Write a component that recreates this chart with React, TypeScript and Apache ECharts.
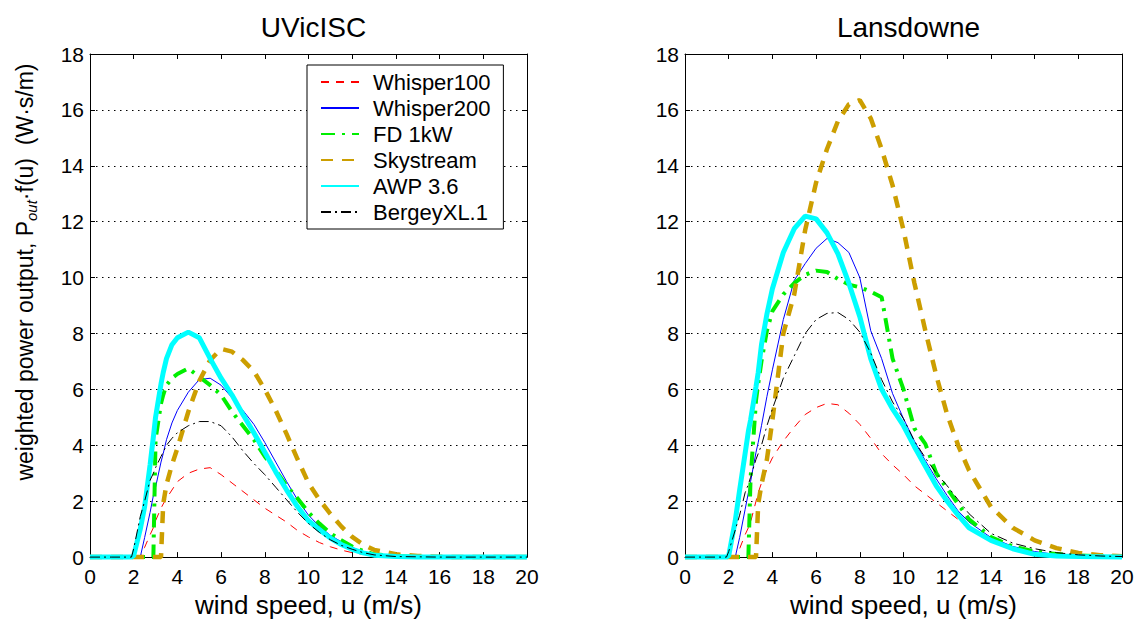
import React, { useEffect, useRef } from 'react';
import * as echarts from 'echarts';

// Wind speed samples (m/s) shared by every curve
const windSpeed = [0, 1, 1.9, 2, 2.3, 2.5, 2.75, 2.9, 3, 3.25, 3.35, 3.5, 3.75, 4, 4.5, 5, 5.5, 6, 6.5, 7, 7.5, 8, 8.5, 9, 9.5, 10, 10.5, 11, 11.5, 12, 12.5, 13, 14, 15, 16, 17, 18, 19, 20];

const turbineNames = ['Whisper100', 'Whisper200', 'FD 1kW', 'Skystream', 'AWP 3.6', 'BergeyXL.1'];
const siteNames = ['UVicISC', 'Lansdowne'];

// Weighted power output P_out·f(u) (W·s/m) at UVicISC
const uvicWhisper100 = [0, 0, 0, 0, 0, 0.35, 0.8, 1.05, 1.3, 1.75, 1.9, 2.1, 2.4, 2.7, 3.0, 3.15, 3.2, 2.95, 2.65, 2.35, 2.05, 1.75, 1.5, 1.25, 0.95, 0.72, 0.52, 0.37, 0.25, 0.16, 0.1, 0.06, 0.02, 0.01, 0, 0, 0, 0, 0];
const uvicWhisper200 = [0, 0, 0, 0, 0, 0.7, 1.6, 2.2, 2.5, 3.4, 3.7, 4.2, 4.8, 5.25, 5.9, 6.35, 6.4, 6.15, 5.7, 5.25, 4.75, 4.1, 3.4, 2.7, 2.05, 1.5, 1.1, 0.78, 0.55, 0.35, 0.18, 0.09, 0.02, 0.01, 0, 0, 0, 0, 0];
const uvicFd1kw = [0, 0, 0, 0, 0, 0, 0, 0, 4.2, 5.5, 5.8, 6.15, 6.4, 6.55, 6.75, 6.45, 6.15, 5.8, 5.2, 4.7, 4.2, 3.6, 3.1, 2.55, 2.1, 1.6, 1.2, 0.85, 0.6, 0.38, 0.22, 0.1, 0.03, 0.01, 0, 0, 0, 0, 0];
const uvicSkystream = [0, 0, 0, 0, 0, 0, 0, 0, 0, 0, 1.9, 2.6, 3.3, 3.9, 5.2, 6.3, 7.05, 7.45, 7.35, 7.05, 6.65, 6.0, 5.25, 4.4, 3.5, 2.65, 2.05, 1.55, 1.1, 0.72, 0.45, 0.26, 0.1, 0.04, 0.01, 0, 0, 0, 0];
const uvicAwp36 = [0, 0, 0, 0.05, 1.0, 1.8, 3.3, 4.3, 5.0, 6.2, 6.6, 7.1, 7.6, 7.85, 8.05, 7.85, 7.1, 6.4, 5.8, 5.1, 4.45, 3.75, 3.05, 2.4, 1.8, 1.3, 0.98, 0.68, 0.45, 0.28, 0.15, 0.07, 0.02, 0, 0, 0, 0, 0, 0];
const uvicBergey = [0, 0, 0, 0.3, 1.45, 2.0, 2.75, 3.0, 3.2, 3.6, 3.75, 4.0, 4.25, 4.45, 4.7, 4.85, 4.85, 4.7, 4.3, 3.8, 3.35, 2.95, 2.5, 2.05, 1.6, 1.2, 0.88, 0.62, 0.42, 0.28, 0.16, 0.08, 0.02, 0.01, 0, 0, 0, 0, 0];

// Weighted power output P_out·f(u) (W·s/m) at Lansdowne
const lansWhisper100 = [0, 0, 0, 0, 0, 0.3, 0.8, 1.05, 1.25, 2.0, 2.3, 2.65, 3.15, 3.55, 4.15, 4.65, 5.1, 5.35, 5.5, 5.45, 5.15, 4.75, 4.25, 3.7, 3.3, 2.95, 2.55, 2.25, 1.95, 1.65, 1.35, 1.05, 0.6, 0.33, 0.16, 0.08, 0.04, 0.02, 0.01];
const lansWhisper200 = [0, 0, 0, 0, 0, 0.7, 1.7, 2.3, 2.7, 3.75, 4.1, 4.7, 5.75, 6.7, 8.5, 9.9, 10.5, 11.05, 11.4, 11.25, 10.9, 10.0, 8.1, 7.1, 5.85, 4.95, 4.15, 3.45, 2.8, 2.2, 1.65, 1.25, 0.7, 0.38, 0.2, 0.09, 0.04, 0.02, 0.01];
const lansFd1kw = [0, 0, 0, 0, 0, 0, 0, 0, 2.8, 5.6, 6.2, 7.0, 8.1, 8.8, 9.4, 9.8, 10.1, 10.25, 10.2, 9.95, 9.75, 9.65, 9.5, 9.3, 7.1, 6.0, 4.6, 4.05, 3.0, 2.45, 1.9, 1.35, 0.72, 0.38, 0.2, 0.11, 0.06, 0.03, 0.02];
const lansSkystream = [0, 0, 0, 0, 0, 0, 0, 0, 0, 0, 1.9, 2.6, 3.5, 4.9, 8.0, 9.4, 11.7, 13.4, 14.6, 15.6, 16.2, 16.35, 15.7, 14.6, 13.3, 11.7, 9.8, 8.1, 6.5, 5.1, 4.0, 3.1, 1.8, 1.05, 0.6, 0.32, 0.15, 0.07, 0.03];
const lansAwp36 = [0, 0, 0, 0.05, 1.3, 2.4, 3.7, 4.5, 4.9, 6.1, 6.6, 7.6, 8.7, 9.6, 10.9, 11.75, 12.2, 12.1, 11.6, 10.85, 9.8, 8.6, 7.1, 6.0, 5.3, 4.7, 3.95, 3.25, 2.55, 2.0, 1.5, 1.05, 0.6, 0.3, 0.1, 0.04, 0.02, 0.01, 0];
const lansBergey = [0, 0, 0, 0.2, 0.97, 1.5, 2.3, 2.6, 2.85, 3.5, 3.7, 4.0, 4.7, 5.3, 6.4, 7.2, 8.0, 8.5, 8.72, 8.75, 8.5, 8.05, 7.3, 6.35, 5.55, 4.95, 4.15, 3.55, 3.0, 2.55, 2.05, 1.55, 0.85, 0.5, 0.3, 0.16, 0.08, 0.04, 0.02];

const siteCurves = [
  [uvicWhisper100, uvicWhisper200, uvicFd1kw, uvicSkystream, uvicAwp36, uvicBergey],
  [lansWhisper100, lansWhisper200, lansFd1kw, lansSkystream, lansAwp36, lansBergey],
];

const xTickMax = 20;
const yTickMax = 18;
const tickStep = 2;

// Line appearance for each turbine, in legend order
const turbineStyles = [
  { color: '#ff0000', width: 1, type: [8, 7] },
  { color: '#0000ff', width: 1, type: 'solid' },
  { color: '#00ee00', width: 4, type: [14, 7, 3, 7] },
  { color: '#cc9e00', width: 4.5, type: [12, 9] },
  { color: '#00ffff', width: 5, type: 'solid' },
  { color: '#000000', width: 1, type: [10, 4, 2, 4] },
];

const FONT = '"Liberation Sans", Arial, Helvetica, sans-serif';

const grids = [
  { left: 90, top: 54, width: 437, height: 507 },
  { left: 685, top: 54, width: 437, height: 507 },
];

function buildOption() {
  const axisLine = { show: true, onZero: false, lineStyle: { color: '#000', width: 1 } };
  const axisTick = { show: true, inside: true, length: 5, lineStyle: { color: '#000', width: 1 } };

  const xAxis: any[] = [];
  const yAxis: any[] = [];
  const series: any[] = [];

  grids.forEach((g, i) => {
    xAxis.push({
      gridIndex: i,
      type: 'value',
      position: 'bottom',
      min: 0,
      max: xTickMax,
      interval: tickStep,
      axisLine,
      axisTick,
      axisLabel: { fontSize: 21, color: '#000', margin: 9, fontFamily: FONT },
      splitLine: { show: false },
      name: 'wind speed, u (m/s)',
      nameLocation: 'middle',
      nameGap: 33,
      nameTextStyle: { fontSize: 26, color: '#000', fontFamily: FONT },
    });
    xAxis.push({
      gridIndex: i,
      type: 'value',
      position: 'top',
      min: 0,
      max: xTickMax,
      interval: tickStep,
      axisLine,
      axisTick,
      axisLabel: { show: false },
      splitLine: { show: false },
    });
    yAxis.push({
      gridIndex: i,
      type: 'value',
      position: 'left',
      min: 0,
      max: yTickMax,
      interval: tickStep,
      axisLine,
      axisTick,
      axisLabel: { fontSize: 21, color: '#000', margin: 6, fontFamily: FONT },
      splitLine: { show: true, lineStyle: { color: '#000', width: 1, type: [1.5, 4.5] } },
    });
    yAxis.push({
      gridIndex: i,
      type: 'value',
      position: 'right',
      min: 0,
      max: yTickMax,
      interval: tickStep,
      axisLine,
      axisTick,
      axisLabel: { show: false },
      splitLine: { show: false },
    });

    siteCurves[i].forEach((values, k) => {
      const st = turbineStyles[k];
      series.push({
        type: 'line',
        name: turbineNames[k],
        xAxisIndex: i * 2,
        yAxisIndex: i * 2,
        data: windSpeed.map((u, j) => [u, values[j]]),
        showSymbol: false,
        symbol: 'none',
        clip: false,
        lineStyle: { color: st.color, width: st.width, type: st.type },
        itemStyle: { color: st.color },
        emphasis: { disabled: true },
      });
    });
  });

  return {
    animation: false,
    backgroundColor: '#fff',
    textStyle: { fontFamily: FONT },
    title: siteNames.map((name, i) => ({
      text: name,
      left: grids[i].left + grids[i].width / 2,
      top: 8,
      textAlign: 'center',
      textStyle: { fontSize: 28, fontWeight: 'normal', color: '#000', fontFamily: FONT },
    })),
    grid: grids,
    xAxis,
    yAxis,
    legend: {
      data: turbineNames,
      orient: 'vertical',
      left: 307,
      top: 65,
      itemWidth: 38,
      itemHeight: 14,
      itemGap: 4,
      padding: [6, 13, 6, 13],
      borderColor: '#000',
      borderWidth: 1,
      backgroundColor: '#fff',
      selectedMode: false,
      itemStyle: { opacity: 0, borderWidth: 0 },
      textStyle: { fontSize: 22, color: '#000', fontFamily: FONT, padding: [0, 0, 0, 9] },
    },
    graphic: [
      {
        type: 'text',
        x: 25,
        y: 272,
        rotation: Math.PI / 2,
        style: {
          text: 'weighted power output, P{sub|out}·f(u)  (W·s/m)',
          fontSize: 23,
          fontFamily: FONT,
          fill: '#000',
          align: 'center',
          verticalAlign: 'middle',
          rich: {
            sub: { fontSize: 15, fontStyle: 'italic', fontFamily: FONT, fill: '#000', padding: [12, 0, 0, 0] },
          },
        },
      },
    ],
    series,
  };
}

export default function App() {
  const ref = useRef<HTMLDivElement>(null);

  useEffect(() => {
    if (!ref.current) return;
    const chart = echarts.init(ref.current, undefined, { renderer: 'svg' });
    chart.setOption(buildOption() as any);
    return () => chart.dispose();
  }, []);

  return (
    <div
      ref={ref}
      style={{ position: 'absolute', left: 0, top: 0, width: 1138, height: 623, background: '#fff' }}
    />
  );
}
